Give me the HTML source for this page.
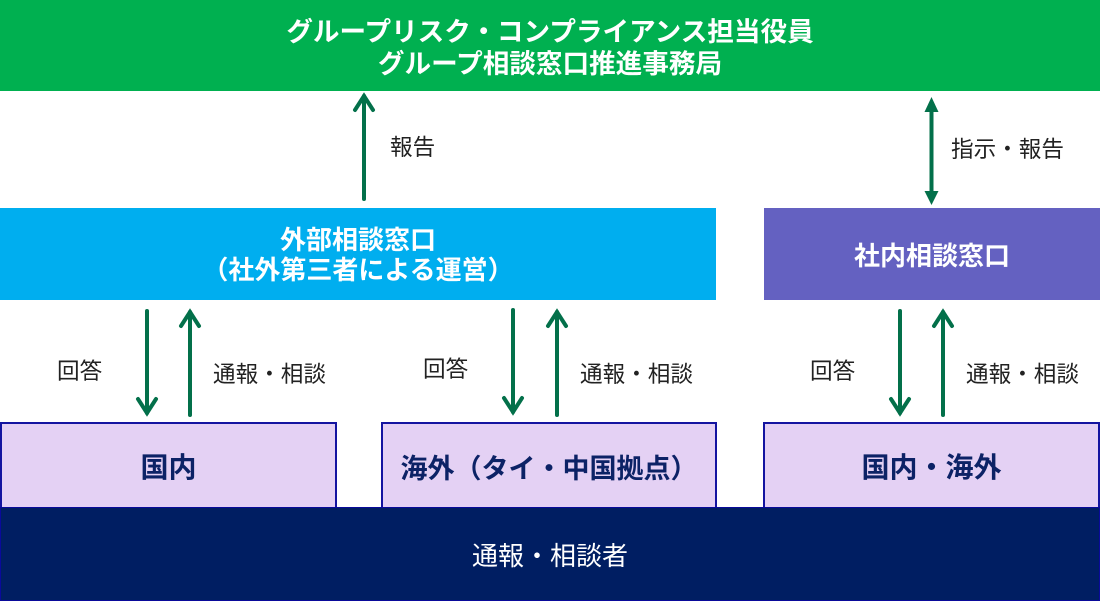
<!DOCTYPE html>
<html><head><meta charset="utf-8">
<style>
html,body{margin:0;padding:0;background:#fff;}
body{width:1100px;height:601px;position:relative;overflow:hidden;font-family:"Liberation Sans","Noto Sans CJK JP",sans-serif;}
.box{position:absolute;display:flex;align-items:center;justify-content:center;text-align:center;box-sizing:border-box;}
.green{left:0;top:0;width:1100px;height:91px;background:#00b050;color:#fff;font-weight:700;font-size:26.6px;line-height:32px;padding-top:4px;}
.blue{left:0;top:208px;width:716px;height:92px;background:#00aeef;color:#fff;font-weight:700;font-size:26px;line-height:30px;padding-top:2px;}
.purple{left:764px;top:208px;width:336px;height:92px;background:#6461c1;color:#fff;font-weight:700;font-size:26px;}
.lav{top:422px;height:86px;background:#e4d1f4;border:2px solid #1414a0;border-bottom:none;color:#0c2266;font-weight:700;font-size:27px;}
.navy{left:0;top:507px;width:1100px;height:94px;background:#001e62;border:1px solid #0a0a9a;color:#fff;font-size:26px;padding-top:0px;}
.lbl{position:absolute;font-size:22.6px;line-height:22px;color:#222;white-space:nowrap;}
svg{position:absolute;left:0;top:0;}
</style></head>
<body>
<div class="box green"><div>グループリスク・コンプライアンス担当役員<br>グループ相談窓口推進事務局</div></div>
<div class="box blue"><div>外部相談窓口<br>（社外第三者による運営）</div></div>
<div class="box purple"><div>社内相談窓口</div></div>
<div class="box lav" style="left:0;width:337px;font-size:28px;"><div>国内</div></div>
<div class="box lav" style="left:381px;width:336px;"><div>海外（タイ・中国拠点）</div></div>
<div class="box lav" style="left:763px;width:337px;font-size:28px;"><div>国内・海外</div></div>
<div class="box navy"><div>通報・相談者</div></div>

<div class="lbl" style="left:390px;top:137px;">報告</div>
<div class="lbl" style="left:951px;top:139px;">指示・報告</div>
<div class="lbl" style="left:57px;top:361px;">回答</div>
<div class="lbl" style="left:213px;top:364px;">通報・相談</div>
<div class="lbl" style="left:423px;top:359px;">回答</div>
<div class="lbl" style="left:580px;top:364px;">通報・相談</div>
<div class="lbl" style="left:810px;top:361px;">回答</div>
<div class="lbl" style="left:966px;top:364px;">通報・相談</div>

<svg width="1100" height="601" viewBox="0 0 1100 601">
<g stroke="#03704a" stroke-width="4" fill="none" stroke-linecap="round" stroke-linejoin="miter">
  <line x1="364" y1="199" x2="364" y2="96"/>
  <polyline points="355,110 364,96 373,110"/>
  <line x1="931.5" y1="108" x2="931.5" y2="194"/>
  <line x1="147" y1="311" x2="147" y2="413"/>
  <polyline points="138,399 147,413 156,399"/>
  <line x1="190" y1="415" x2="190" y2="312"/>
  <polyline points="181,326 190,312 199,326"/>
  <line x1="513" y1="310" x2="513" y2="412"/>
  <polyline points="504,398 513,412 522,398"/>
  <line x1="557" y1="415" x2="557" y2="312"/>
  <polyline points="548,326 557,312 566,326"/>
  <line x1="900" y1="311" x2="900" y2="413"/>
  <polyline points="891,399 900,413 909,399"/>
  <line x1="943" y1="415" x2="943" y2="312"/>
  <polyline points="934,326 943,312 952,326"/>
</g>
<g fill="#03704a">
  <polygon points="931.5,97 924.5,112 938.5,112"/>
  <polygon points="931.5,205 924.5,191 938.5,191"/>
</g>
</svg>
</body></html>
